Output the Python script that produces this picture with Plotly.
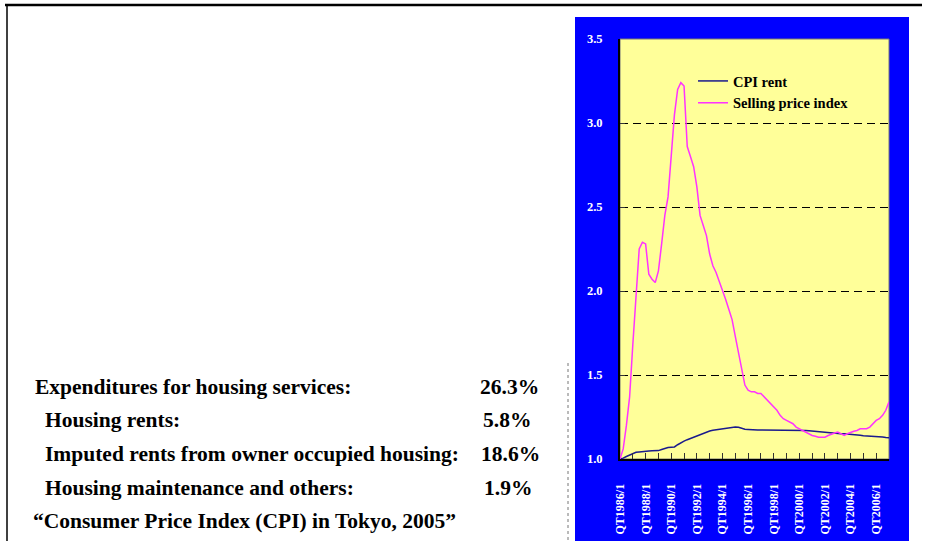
import plotly.graph_objects as go

W, H = 931, 541

# ---------------- data ----------------
years = list(range(1986, 2008))
quarters = [f"QT{y}/{q}" for y in years for q in (1, 2, 3, 4)][:85]   # QT1986/1 .. QT2007/1
tick_labels = ["QT1986/1", "QT1988/1", "QT1990/1", "QT1992/1", "QT1994/1", "QT1996/1",
               "QT1998/1", "QT2000/1", "QT2002/1", "QT2004/1", "QT2006/1"]

cpi_rent = [1.000, 1.005, 1.015, 1.025, 1.035, 1.040, 1.042, 1.045, 1.047, 1.048,
            1.049, 1.050, 1.050, 1.056, 1.064, 1.068, 1.070, 1.072, 1.085, 1.098,
            1.106, 1.115, 1.123, 1.130, 1.137, 1.143, 1.153, 1.162, 1.167, 1.171,
            1.174, 1.177, 1.180, 1.183, 1.186, 1.190, 1.191, 1.189, 1.181, 1.177,
            1.176, 1.174, 1.173, 1.173, 1.173, 1.173, 1.173, 1.173, 1.173, 1.173,
            1.173, 1.173, 1.173, 1.173, 1.173, 1.173, 1.173, 1.172, 1.170, 1.168,
            1.166, 1.163, 1.161, 1.159, 1.157, 1.155, 1.154, 1.153, 1.152, 1.151,
            1.150, 1.149, 1.148, 1.146, 1.143, 1.141, 1.139, 1.138, 1.137, 1.137,
            1.136, 1.134, 1.131, 1.128, 1.126]

selling_price = [1.00, 1.06, 1.20, 1.37, 1.68, 2.00, 2.25, 2.29, 2.28, 2.10,
                 2.07, 2.05, 2.12, 2.28, 2.45, 2.56, 2.80, 3.05, 3.20, 3.24,
                 3.22, 2.86, 2.80, 2.74, 2.62, 2.45, 2.39, 2.33, 2.22, 2.15,
                 2.11, 2.06, 2.00, 1.95, 1.89, 1.83, 1.73, 1.63, 1.52, 1.44,
                 1.41, 1.40, 1.40, 1.39, 1.39, 1.37, 1.35, 1.33, 1.31, 1.29,
                 1.26, 1.24, 1.23, 1.22, 1.21, 1.19, 1.18, 1.17, 1.16, 1.15,
                 1.14, 1.135, 1.13, 1.13, 1.13, 1.14, 1.15, 1.155, 1.16, 1.15,
                 1.14, 1.15, 1.16, 1.165, 1.17, 1.18, 1.18, 1.18, 1.19, 1.21,
                 1.23, 1.24, 1.26, 1.29, 1.34]

text_items = ["Expenditures for housing services:", "Housing rents:",
              "Imputed rents from owner occupied housing:", "Housing maintenance and others:"]
text_shares = ["26.3%", "5.8%", "18.6%", "1.9%"]
source_note = "\u201cConsumer Price Index (CPI) in Tokyo, 2005\u201d"

# ---------------- figure ----------------
def px(x):
    return x / W

def py(y):
    return 1 - y / H

SERIF = "Liberation Serif, Times New Roman, serif"
xpos = list(range(len(quarters)))

fig = go.Figure()
fig.add_trace(go.Scatter(x=xpos, y=cpi_rent, mode="lines", name="CPI rent",
                         line=dict(color="#1a1a8c", width=1.5)))
fig.add_trace(go.Scatter(x=xpos, y=selling_price, mode="lines", name="Selling price index",
                         line=dict(color="#ff33ff", width=1.5)))

label_pos = [quarters.index(t) for t in tick_labels]

fig.update_layout(
    width=W, height=H,
    margin=dict(l=0, r=0, t=0, b=0, autoexpand=False),
    paper_bgcolor="white",
    plot_bgcolor="rgba(0,0,0,0)",
    showlegend=True,
    legend=dict(x=px(693), y=py(65), xanchor="left", yanchor="top",
                bgcolor="rgba(0,0,0,0)", itemwidth=30, tracegroupgap=0,
                font=dict(family=SERIF, size=14.5, color="black", weight="bold")),
    xaxis=dict(domain=[px(620), px(889)], range=[0, len(quarters) - 1],
               tickmode="array", tickvals=label_pos, ticktext=tick_labels,
               tickangle=-90, ticks="inside", ticklen=6, tickcolor="#333333",
               ticklabelstandoff=18, automargin=False,
               minor=dict(tickvals=list(range(0, len(quarters), 4)), ticks="inside",
                          ticklen=6, tickcolor="#333333", showgrid=False),
               tickfont=dict(family=SERIF, size=12, color="white", weight="bold"),
               showline=True, linecolor="black", linewidth=2,
               showgrid=False, zeroline=False, fixedrange=True),
    yaxis=dict(domain=[py(459), py(39)], range=[1.0, 3.5], dtick=0.5, tick0=1.0,
               tickformat=".1f", ticks="inside", ticklen=5, tickcolor="#333333",
               ticklabelstandoff=13, automargin=False,
               tickfont=dict(family=SERIF, size=12.5, color="white", weight="bold"),
               showline=True, linecolor="black", linewidth=2,
               showgrid=True, gridcolor="black", gridwidth=1, griddash="8px,5px",
               zeroline=False, fixedrange=True),
)

shapes = [
    # blue panel
    dict(type="rect", xref="paper", yref="paper", x0=px(575), x1=px(909), y0=0, y1=py(17),
         fillcolor="#0000ff", line=dict(width=0), layer="below"),
    # yellow plot area
    dict(type="rect", xref="x domain", yref="y domain", x0=0, x1=1, y0=0, y1=1,
         fillcolor="#ffff99", line=dict(color="#777777", width=1), layer="below"),
    # slide frame
    dict(type="line", xref="paper", yref="paper", x0=px(5), x1=px(922), y0=py(5), y1=py(5),
         line=dict(color="black", width=2.5)),
    dict(type="line", xref="paper", yref="paper", x0=px(7), x1=px(7), y0=py(5), y1=0,
         line=dict(color="black", width=1.5)),
    # dotted separator
    dict(type="line", xref="paper", yref="paper", x0=px(568), x1=px(568), y0=py(363), y1=0,
         line=dict(color="#777777", width=1, dash="dot")),
]
fig.update_layout(shapes=shapes)

annots = []
row_y = [387, 420, 454, 488]
row_x = [33, 43, 43, 43]
share_x = [541, 533, 542, 534]
for t, s, yy, xx, sx in zip(text_items, text_shares, row_y, row_x, share_x):
    annots.append(dict(text=t, x=px(xx), y=py(yy), xref="paper", yref="paper",
                       xanchor="left", yanchor="middle", showarrow=False,
                       font=dict(family=SERIF, size=21.5, color="black", weight="bold")))
    annots.append(dict(text=s, x=px(sx), y=py(yy), xref="paper", yref="paper",
                       xanchor="right", yanchor="middle", showarrow=False,
                       font=dict(family=SERIF, size=21.5, color="black", weight="bold")))
annots.append(dict(text=source_note, x=px(31), y=py(521), xref="paper", yref="paper",
                   xanchor="left", yanchor="middle", showarrow=False,
                   font=dict(family=SERIF, size=21.5, color="black", weight="bold")))
fig.update_layout(annotations=annots)

fig.write_html("out.html")
